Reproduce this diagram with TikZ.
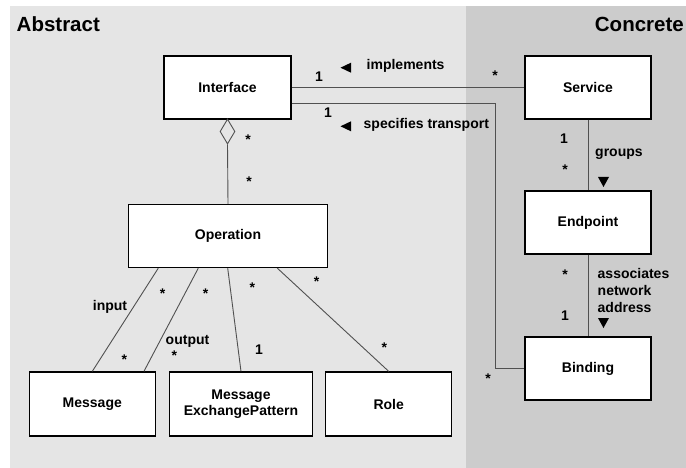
\documentclass[tikz,border=0pt]{standalone}
\usepackage{fontspec}
\setmainfont{Liberation Sans}
\usetikzlibrary{shapes.geometric}
\definecolor{absbg}{HTML}{E5E5E5}
\definecolor{conbg}{HTML}{CCCCCC}
\definecolor{linec}{HTML}{505050}
\tikzset{
  box/.style={draw=black, line width=1.3pt, fill=white, inner sep=0pt,
    font=\fontsize{14}{16.3}\selectfont\bfseries, align=center},
  conn/.style={draw=linec, line width=0.9pt},
  lbl/.style={inner sep=0pt, font=\fontsize{14}{16.6}\selectfont\bfseries},
  star/.style={inner sep=0pt, font=\fontsize{14}{16}\selectfont\bfseries, yshift=-3pt},
  title/.style={inner sep=0pt, font=\fontsize{20.5}{24}\selectfont\bfseries},
  tri/.style={fill=black},
}
\begin{document}
\begin{tikzpicture}[x=1pt,y=-1pt]
\useasboundingbox (0,0) rectangle (686,468);
% backgrounds
\fill[absbg] (10,6) rectangle (466,468);
\fill[conbg] (466,6) rectangle (686,468);
% titles
\node[title, anchor=base west] (tabs) at (16.5,31.5) {Abstract};
\node[title, anchor=base east] (tcon) at (684,31.5) {Concrete};
% boxes
\node[box, minimum width=127pt, minimum height=63pt] (iface) at (227.5,87.5) {Interface};
\node[box, minimum width=126pt, minimum height=63pt] (service) at (588,87.5) {Service};
\node[box, minimum width=126pt, minimum height=63pt] (endpoint) at (588,222.5) {Endpoint};
\node[box, minimum width=126pt, minimum height=63pt] (binding) at (588,368.5) {Binding};
\node[box, minimum width=199pt, minimum height=63pt] (operation) at (228,236) {Operation};
\node[box, minimum width=126pt, minimum height=64pt] (message) at (92.3,404) {Message};
\node[box, minimum width=142.6pt, minimum height=64pt] (mep) at (241,404) {Message\\ExchangePattern};
\node[box, minimum width=126pt, minimum height=64pt] (role) at (388.7,404) {Role};
% aggregation diamond
\node[diamond, conn, inner sep=0pt, minimum width=15pt, minimum height=25pt] (agg) at (227.5,131.5) {};
% connectors
\draw[conn] (iface.east) -- (service.west);
\coordinate (c1) at (495,103);
\draw[conn] (iface.east |- c1) -- (c1) |- (binding.west);
\draw[conn] (agg.south) -- (operation.north);
\draw[conn] (service.south) -- (endpoint.north);
\draw[conn] (endpoint.south) -- (binding.north);
\draw[conn] ([xshift=-69.7pt]operation.south) -- (message.north);
\draw[conn] ([xshift=-29.7pt]operation.south) -- ([xshift=-12pt]message.north east);
\draw[conn] ([xshift=-0.3pt]operation.south) -- (mep.north);
\draw[conn] ([xshift=49.3pt]operation.south) -- (role.north);
% direction triangles
\fill[tri] (340.5,67.7) -- (351,62.7) -- (351,72.7) -- cycle;
\fill[tri] (340.5,126.3) -- (351,121.3) -- (351,131.3) -- cycle;
\fill[tri] (598,177) -- (609,177) -- (603.5,187) -- cycle;
\fill[tri] (598,318) -- (609,318) -- (603.5,328) -- cycle;
% labels
\node[lbl] (l1a) at (319,77) {1};
\node[lbl] (l1b) at (328,113) {1};
\node[lbl, anchor=west] (limpl) at (366.5,66) {implements};
\node[lbl, anchor=west] (lspec) at (363.5,125) {specifies transport};
\node[star] (s1) at (495,73) {*};
\node[star] (s2) at (248,137) {*};
\node[star] (s3) at (249,179) {*};
\node[lbl] (l1c) at (564,139) {1};
\node[lbl, anchor=west] (lgroups) at (595,154) {groups};
\node[star] (s4) at (565,167) {*};
\node[star] (s5) at (565,272) {*};
\node[lbl, anchor=north west, align=left] (lassoc) at (597.5,268.5) {associates\\network\\address};
\node[lbl] (l1d) at (565,316) {1};
\node[star] (s6) at (488,376) {*};
\node[star] (s7) at (162.7,290.7) {*};
\node[star] (s8) at (205.7,290.7) {*};
\node[star] (s9) at (252.3,284.3) {*};
\node[star] (s10) at (316.7,278.3) {*};
\node[lbl] (linput) at (110,307) {input};
\node[lbl] (loutput) at (187.5,341.7) {output};
\node[star] (s11) at (124.3,356.7) {*};
\node[star] (s12) at (174.3,353) {*};
\node[lbl] (l1e) at (259,349.3) {1};
\node[star] (s13) at (384.3,345) {*};
\end{tikzpicture}
\end{document}
